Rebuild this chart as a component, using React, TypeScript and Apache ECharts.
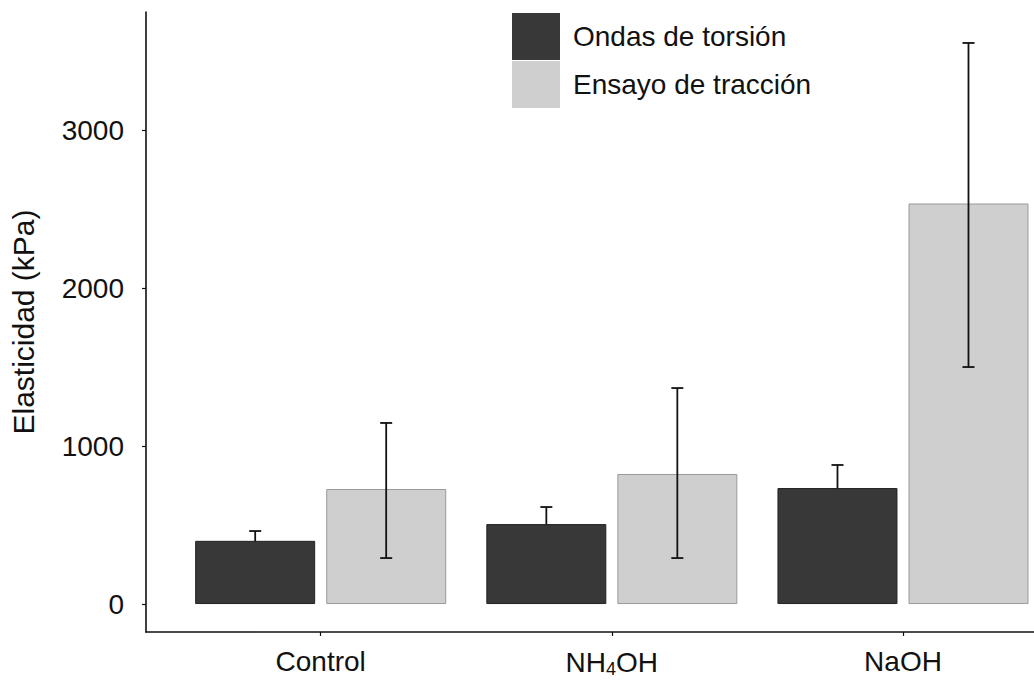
import React, { useEffect, useRef } from "react";
import * as echarts from "echarts";

// ---- data ----
const categories = ["Control", "NH4OH", "NaOH"];
const seriesNames = ["Ondas de torsión", "Ensayo de tracción"];
const torsion = [400, 506, 734];
const torsionLow = [338, 398, 588];
const torsionHigh = [462, 614, 880];
const traction = [728, 823, 2535];
const tractionLow = [291, 291, 1500];
const tractionHigh = [1146, 1367, 3551];
const yTicks = [0, 1000, 2000, 3000];

// ---- style constants ----
const FONT = "'Liberation Sans', Arial, Helvetica, sans-serif";
const TEXT = "#111";
const BAR_W = 120;
const BAR_GAP = 11;
const DARK = "#383838";
const LIGHT = "#cfcfcf";

function errorSeries(low: number[], high: number[], offset: number, z: number) {
  return {
    type: "custom",
    silent: true,
    z,
    encode: { x: 0, y: [1, 2] },
    data: low.map((l, i) => [i, l, high[i]]),
    renderItem: (params: any, api: any) => {
      const x = api.value(0);
      const pLo = api.coord([x, api.value(1)]);
      const pHi = api.coord([x, api.value(2)]);
      const cx = pLo[0] + offset;
      const cap = 6;
      const style = { stroke: "#111", lineWidth: 1.8 };
      return {
        type: "group",
        children: [
          { type: "line", shape: { x1: cx, y1: pLo[1], x2: cx, y2: pHi[1] }, style },
          { type: "line", shape: { x1: cx - cap, y1: pHi[1], x2: cx + cap, y2: pHi[1] }, style },
          { type: "line", shape: { x1: cx - cap, y1: pLo[1], x2: cx + cap, y2: pLo[1] }, style },
        ],
      };
    },
  };
}

export default function App() {
  const ref = useRef<HTMLDivElement>(null);
  useEffect(() => {
    if (!ref.current) return;
    const chart = echarts.init(ref.current, undefined, { renderer: "svg" });
    const half = (BAR_W + BAR_GAP) / 2;
    chart.setOption({
      animation: false,
      backgroundColor: "#fff",
      textStyle: { fontFamily: FONT, color: TEXT },
      grid: { left: 145, right: 0, top: 12, bottom: 48, containLabel: false },
      legend: {
        data: seriesNames,
        orient: "vertical",
        left: 512,
        top: 13,
        padding: 0,
        itemWidth: 48,
        itemHeight: 47,
        itemGap: 1,
        icon: "rect",
        itemStyle: { borderWidth: 0 },
        textStyle: { fontFamily: FONT, fontSize: 28, color: TEXT, padding: [0, 0, 0, 8] },
      },
      xAxis: {
        type: "value",
        min: -0.6,
        max: 2.45,
        axisLine: { onZero: false, lineStyle: { color: "#111", width: 1.6 } },
        axisTick: { customValues: [0, 1, 2], length: 4, lineStyle: { color: "#111", width: 1.2 } },
        splitLine: { show: false },
        axisLabel: {
          customValues: [0, 1, 2],
          margin: 14,
          fontFamily: FONT,
          fontSize: 28,
          color: TEXT,
          formatter: (v: number) => {
            const name = categories[Math.round(v)] || "";
            if (name === "NH4OH") return "{a|NH}{s|4}{a|OH}";
            return "{a|" + name + "}";
          },
          rich: {
            a: { fontFamily: FONT, fontSize: 28, color: TEXT, lineHeight: 30 },
            s: { fontFamily: FONT, fontSize: 18, color: TEXT, padding: [14, 0, 0, 0] },
          },
        },
      },
      yAxis: {
        type: "value",
        min: -177,
        max: 3747,
        name: "Elasticidad (kPa)",
        nameLocation: "middle",
        nameGap: 108,
        nameTextStyle: { fontFamily: FONT, fontSize: 30, color: TEXT },
        axisLine: { show: true, onZero: false, lineStyle: { color: "#111", width: 1.6 } },
        axisTick: { show: true, customValues: yTicks, length: 4, lineStyle: { color: "#111", width: 1.2 } },
        splitLine: { show: false },
        axisLabel: {
          customValues: yTicks,
          margin: 22,
          fontFamily: FONT,
          fontSize: 28,
          color: TEXT,
          formatter: (v: number) => String(v),
        },
      },
      series: [
        {
          name: seriesNames[0],
          type: "bar",
          z: 2,
          barWidth: BAR_W,
          barGap: ((BAR_GAP / BAR_W) * 100).toFixed(1) + "%",
          data: torsion.map((v, i) => [i, v]),
          itemStyle: { color: DARK, borderColor: "#222", borderWidth: 1 },
        },
        {
          name: seriesNames[1],
          type: "bar",
          z: 2,
          barWidth: BAR_W,
          barGap: ((BAR_GAP / BAR_W) * 100).toFixed(1) + "%",
          data: traction.map((v, i) => [i, v]),
          itemStyle: { color: LIGHT, borderColor: "#9a9a9a", borderWidth: 1 },
        },
        // torsion error bars sit behind their near-black bars, as in the reference
        errorSeries(torsionLow, torsionHigh, -half, 1),
        errorSeries(tractionLow, tractionHigh, half, 5),
      ],
    });
    return () => chart.dispose();
  }, []);
  return (
    <div
      ref={ref}
      style={{ position: "absolute", left: 0, top: 0, width: 1034, height: 680, background: "#fff" }}
    />
  );
}
